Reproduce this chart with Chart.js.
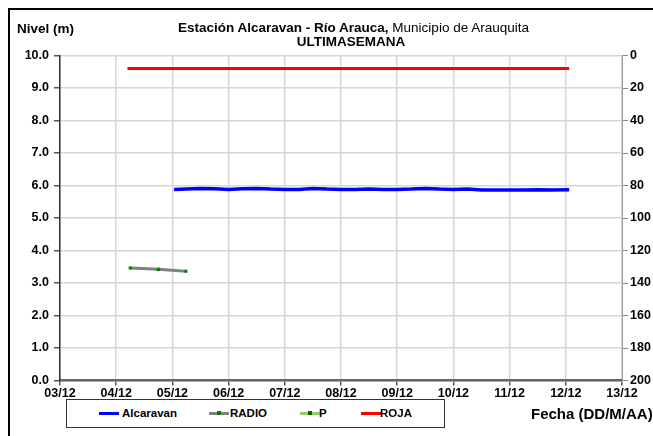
<!DOCTYPE html>
<html>
<head>
<meta charset="utf-8">
<script src="https://cdn.jsdelivr.net/npm/chart.js@4/dist/chart.umd.min.js"></script>
<style>
  html, body { margin: 0; padding: 0; background: #fff; }
  body { width: 653px; height: 436px; position: relative; overflow: hidden; font-family: "Liberation Sans", Arial, sans-serif; }
  #wrap { position: absolute; left: 0; top: 0; width: 653px; height: 436px; }
  .frame { position: absolute; left: 8px; top: 8px; width: 700px; height: 500px; border-left: 2px solid #000; border-top: 2px solid #000; }
  .txt { position: absolute; white-space: nowrap; color: #000; font-size: 13.5px; line-height: 13px; }
  .b { font-weight: bold; }
  #legend { position: absolute; left: 66px; top: 399px; width: 377px; height: 27px; border: 1px solid #333; background: #fff; }
  .lg-item { position: absolute; top: 7px; height: 13px; font-size: 11.5px; font-weight: bold; line-height: 13px; }
  .lg-line { position: absolute; top: 5px; width: 20px; height: 3px; }
  .lg-dot { position: absolute; top: 4px; left: 8px; width: 4px; height: 4px; }
</style>
</head>
<body>
<div class="frame"></div>
<div id="wrap"><canvas id="chart" width="653" height="436"></canvas></div>
<div class="txt b" style="left:17px; top:22px;">Nivel (m)</div>
<div class="txt" style="left:0; width:707px; top:21px; text-align:center;"><span class="b">Estación Alcaravan - Río Arauca,</span> Municipio de Arauquita</div>
<div class="txt b" style="left:0; width:702px; top:35px; text-align:center;">ULTIMASEMANA</div>
<div id="legend"></div>
<div class="txt b" style="left:531px; top:407px; font-size:15px;">Fecha (DD/M/AA)</div>
<script>
// eje X: dias desde 03/12 00:00
const fechas = ['03/12', '04/12', '05/12', '06/12', '07/12', '08/12', '09/12', '10/12', '11/12', '12/12', '13/12'];
const nivelTicks = [0, 1, 2, 3, 4, 5, 6, 7, 8, 9, 10];

const alcaravanDias = [2.03, 2.25, 2.5, 2.75, 3.0, 3.25, 3.5, 3.75, 4.0, 4.25, 4.5, 4.75, 5.0, 5.25, 5.5, 5.75, 6.0, 6.25, 6.5, 6.75, 7.0, 7.25, 7.5, 7.75, 8.0, 8.25, 8.5, 8.75, 9.06];
const alcaravanNivel = [5.88, 5.89, 5.91, 5.90, 5.88, 5.90, 5.91, 5.89, 5.88, 5.88, 5.91, 5.89, 5.88, 5.88, 5.89, 5.88, 5.88, 5.89, 5.91, 5.89, 5.88, 5.89, 5.86, 5.86, 5.86, 5.86, 5.87, 5.86, 5.87];

const radioDias = [1.25, 1.75, 2.24];
const radioNivel = [3.46, 3.42, 3.36];

const pDias = [];
const pValores = [];

const rojaDias = [1.2, 9.06];
const rojaNivel = [9.6, 9.6];

const toPts = (xs, ys) => xs.map((x, i) => ({ x: x, y: ys[i] }));

const tickFont = { family: '"Liberation Sans", Arial, sans-serif', size: 12.5, weight: 'bold' };

const datasets = [
  {
    label: 'Alcaravan',
    data: toPts(alcaravanDias, alcaravanNivel),
    borderColor: '#0000ff',
    backgroundColor: '#0000ff',
    borderWidth: 3.5,
    pointRadius: 0,
    yAxisID: 'y',
    _dot: null
  },
  {
    label: 'RADIO',
    data: toPts(radioDias, radioNivel),
    borderColor: '#808080',
    backgroundColor: '#008000',
    borderWidth: 3,
    pointStyle: 'rect',
    pointRadius: 2.2,
    pointBorderWidth: 0,
    yAxisID: 'y',
    _dot: '#008000'
  },
  {
    label: 'P',
    data: toPts(pDias, pValores),
    borderColor: '#99cc66',
    backgroundColor: '#006600',
    borderWidth: 3,
    pointRadius: 2,
    yAxisID: 'y2',
    _dot: '#006600'
  },
  {
    label: 'ROJA',
    data: toPts(rojaDias, rojaNivel),
    borderColor: '#ff0000',
    backgroundColor: '#ff0000',
    borderWidth: 3,
    pointRadius: 0,
    yAxisID: 'y',
    _dot: null
  }
];

const chart = new Chart(document.getElementById('chart').getContext('2d'), {
  type: 'line',
  data: { datasets: datasets },
  options: {
    responsive: false,
    animation: false,
    layout: { padding: { top: 55.5, left: 0, right: 0, bottom: 0 } },
    plugins: { legend: { display: false }, tooltip: { enabled: false } },
    scales: {
      x: {
        type: 'linear',
        min: 0,
        max: 10,
        afterFit: (s) => { s.height = 55.5; },
        afterBuildTicks: (s) => { s.ticks = fechas.map((f, i) => ({ value: i })); },
        ticks: {
          color: '#000',
          font: tickFont,
          padding: 1,
          maxRotation: 0,
          autoSkip: false,
          callback: (v) => fechas[v]
        },
        grid: { color: '#d6d6d6', lineWidth: 1.5, tickLength: 5, tickColor: '#555' },
        border: { color: '#666', width: 2.5 }
      },
      y: {
        position: 'left',
        min: 0,
        max: 10,
        afterFit: (s) => { s.width = 60; },
        afterBuildTicks: (s) => { s.ticks = nivelTicks.map((v) => ({ value: v })); },
        ticks: {
          color: '#000',
          font: tickFont,
          padding: 5,
          callback: (v) => v.toFixed(1)
        },
        grid: { color: '#d6d6d6', lineWidth: 1.5, tickLength: 6, tickColor: '#555' },
        border: { color: '#333', width: 1.5 }
      },
      y2: {
        position: 'right',
        display: true,
        reverse: true,
        min: 0,
        max: 200,
        afterFit: (s) => { s.width = 31; },
        ticks: { stepSize: 20, color: '#000', font: tickFont, padding: 2 },
        grid: { drawOnChartArea: false, tickLength: 6, tickColor: '#888' },
        border: { color: '#999', width: 1 }
      }
    }
  }
});

// leyenda en HTML, a partir de los datasets
const legendPos = [[32, 55], [142, 163], [233, 252], [294, 313]];
const legend = document.getElementById('legend');
datasets.forEach((ds, i) => {
  const item = document.createElement('div');
  item.className = 'lg-item';
  item.style.left = legendPos[i][0] + 'px';
  item.style.width = '120px';
  const line = document.createElement('div');
  line.className = 'lg-line';
  line.style.background = ds.borderColor;
  item.appendChild(line);
  if (ds._dot) {
    const dot = document.createElement('div');
    dot.className = 'lg-dot';
    dot.style.background = ds._dot;
    item.appendChild(dot);
  }
  const label = document.createElement('span');
  label.textContent = ds.label;
  label.style.position = 'absolute';
  label.style.left = (legendPos[i][1] - legendPos[i][0]) + 'px';
  label.style.top = '0px';
  item.appendChild(label);
  legend.appendChild(item);
});
</script>
</body>
</html>
